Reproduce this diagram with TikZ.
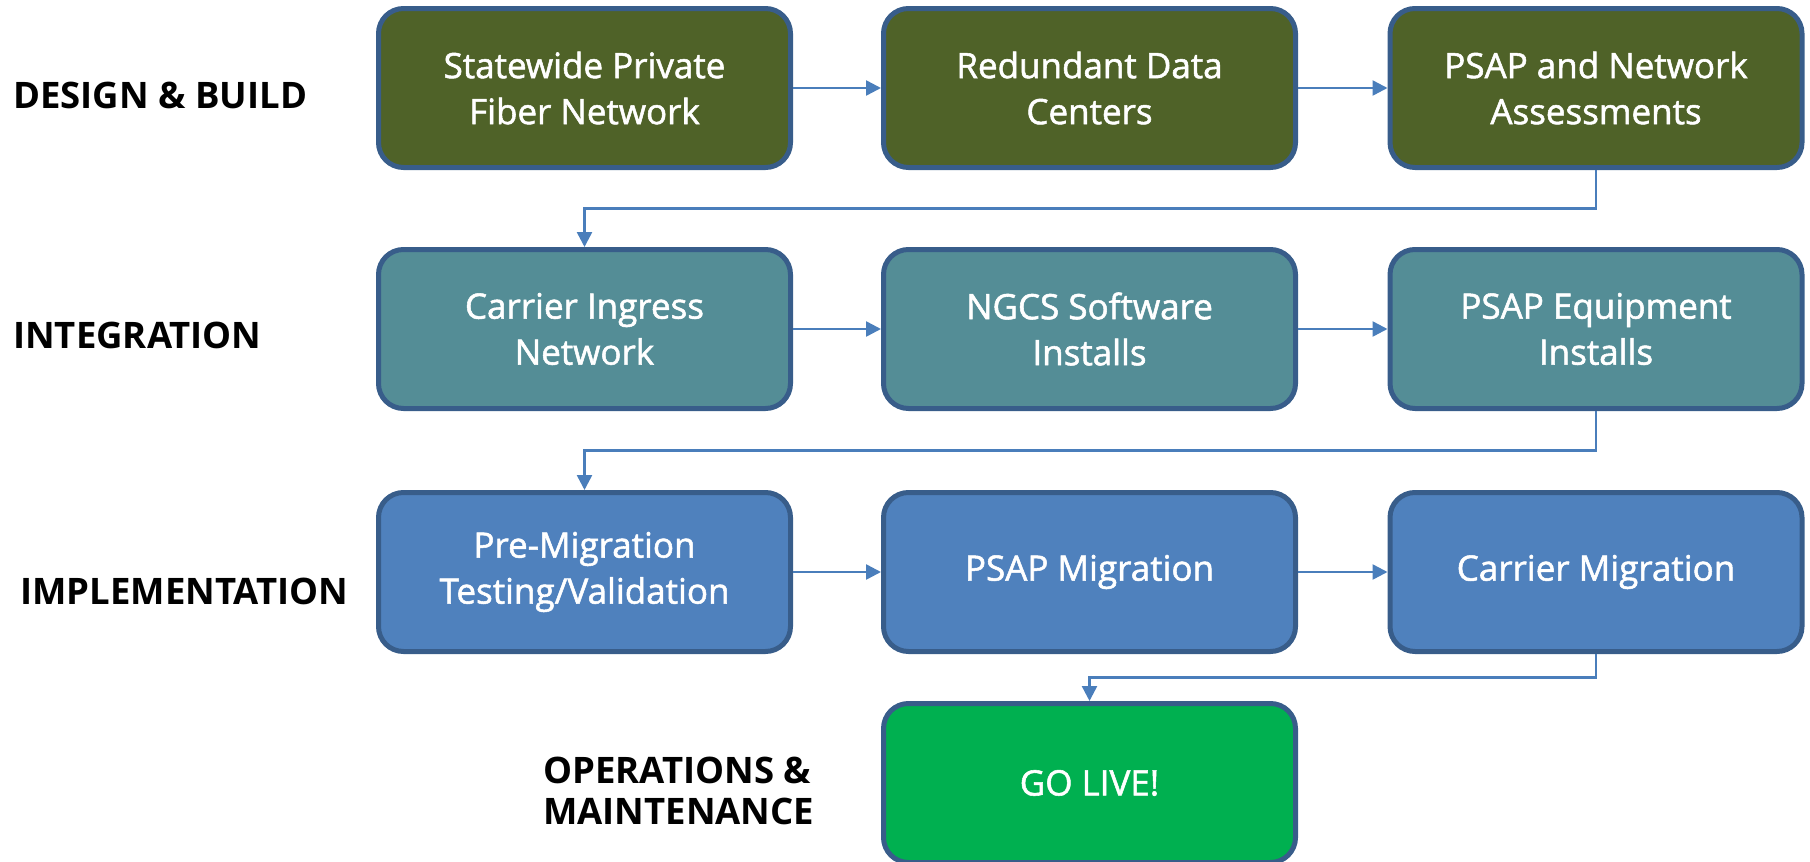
\documentclass[tikz,border=0pt]{standalone}
\usepackage{fontspec}
\setmainfont{Open Sans}
\newfontfamily\boxfont[FakeBold=1.5]{Open Sans}
\usetikzlibrary{arrows.meta,calc}
\definecolor{olive}{HTML}{4F6228}
\definecolor{tealb}{HTML}{548D96}
\definecolor{blueb}{HTML}{4F81BD}
\definecolor{greenb}{HTML}{00B050}
\definecolor{bord}{HTML}{385D8A}
\definecolor{conn}{HTML}{4A7EBB}
\tikzset{
  box/.style={draw=bord, line width=5pt, rounded corners=25pt, minimum width=412pt, minimum height=159pt,
    text=white, align=center, font=\boxfont\fontsize{35}{46}\selectfont, inner sep=0pt},
  lab/.style={anchor=west, align=left, font=\fontsize{36.5}{41}\selectfont\bfseries, inner sep=0pt},
  arr/.style={draw=conn, line width=2.5pt, -{Triangle[length=15pt,width=15pt]}}
}
\begin{document}
\begin{tikzpicture}[x=1pt,y=-1pt]
\useasboundingbox (0,0) rectangle (1810,862);
% row 1
\node[box, fill=olive] (a1) at (584.5,88) {Statewide Private\\Fiber Network};
\node[box, fill=olive] (a2) at (1089.5,88) {Redundant Data\\Centers};
\node[box, fill=olive] (a3) at (1596,88) {PSAP and Network\\Assessments};
% row 2
\node[box, fill=tealb] (b1) at (584.5,329) {Carrier Ingress\\Network};
\node[box, fill=tealb] (b2) at (1089.5,329) {NGCS Software\\Installs};
\node[box, fill=tealb] (b3) at (1596,329) {PSAP Equipment\\Installs};
% row 3
\node[box, fill=blueb] (c1) at (584.5,572) {Pre-Migration\\Testing/Validation};
\node[box, fill=blueb] (c2) at (1089.5,572) {PSAP Migration};
\node[box, fill=blueb] (c3) at (1596,572) {Carrier Migration};
% row 4
\node[box, fill=greenb] (d2) at (1089.5,783) {GO LIVE!};
% labels
\node[lab] (l1) at (13,95) {DESIGN \& BUILD};
\node[lab] (l2) at (13,335) {INTEGRATION};
\node[lab] (l3) at (20,591) {IMPLEMENTATION};
\node[lab] (l4) at (543,791) {OPERATIONS \&\\MAINTENANCE};
% connectors
\draw[arr] (a1) -- (a2);
\draw[arr] (a2) -- (a3);
\draw[arr] (b1) -- (b2);
\draw[arr] (b2) -- (b3);
\draw[arr] (c1) -- (c2);
\draw[arr] (c2) -- (c3);
\coordinate (m1) at ($(a3.south)!0.5!(b1.north)$);
\coordinate (m2) at ($(b3.south)!0.5!(c1.north)$);
\coordinate (m3) at ($(c3.south)!0.5!(d2.north)$);
\draw[arr] (a3.south) -- (a3.south |- m1) -| (b1.north);
\draw[arr] (b3.south) -- (b3.south |- m2) -| (c1.north);
\draw[arr] (c3.south) -- (c3.south |- m3) -| (d2.north);
\end{tikzpicture}
\end{document}
